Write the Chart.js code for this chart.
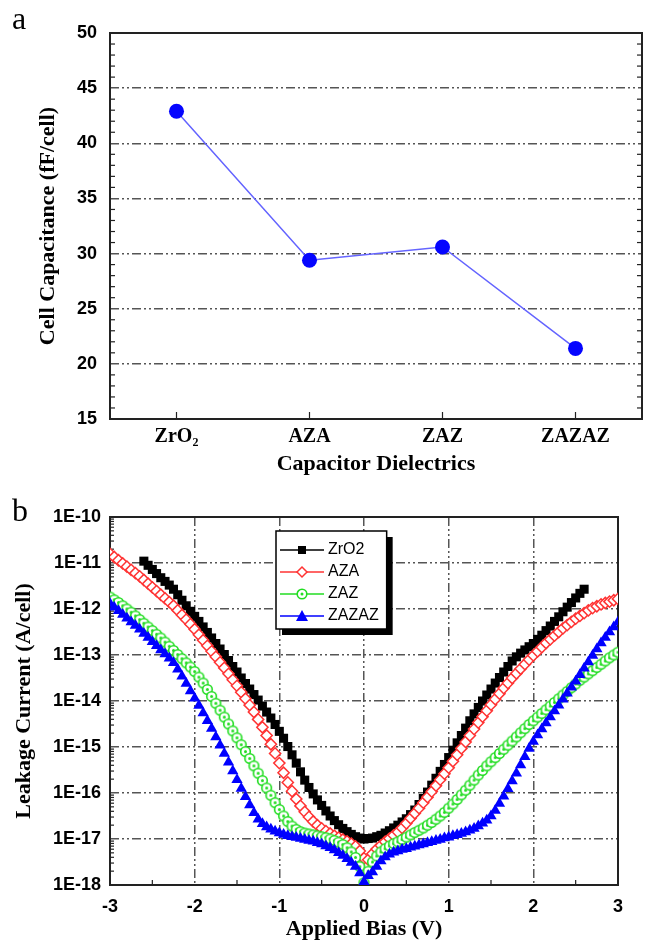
<!DOCTYPE html>
<html>
<head>
<meta charset="utf-8">
<script src="https://cdn.jsdelivr.net/npm/chart.js@4.4.1/dist/chart.umd.min.js"></script>
<style>
  body { margin: 0; background: #fff; }
  #page { position: relative; width: 650px; height: 946px; }
  .panel { position: absolute; left: 0; width: 650px; }
  .panel-label { position: absolute; font-family: 'Liberation Serif', 'Times New Roman', serif; font-size: 32px; line-height: 32px; color: #000; }
</style>
</head>
<body>
<div id="page">
  <div class="panel" style="top:0; height:480px;"><canvas id="capChart"></canvas></div>
  <div class="panel" style="top:480px; height:466px;"><canvas id="leakChart"></canvas></div>
  <div class="panel-label" style="left:12px; top:2px;">a</div>
  <div class="panel-label" style="left:12px; top:494px;">b</div>
</div>
<script>
// ---- panel (a): cell capacitance per dielectric stack ----
const DIELECTRICS = ['ZrO\u2082', 'AZA', 'ZAZ', 'ZAZAZ'];
const CELL_CAPACITANCE = [42.9, 29.4, 30.6, 21.4];   // fF/cell

// ---- panel (b): leakage current vs applied bias ----
const BIAS = [
  -3, -2.95, -2.9, -2.85, -2.8, -2.75, -2.7, -2.65, -2.6, -2.55,
  -2.5, -2.45, -2.4, -2.35, -2.3, -2.25, -2.2, -2.15, -2.1, -2.05,
  -2, -1.95, -1.9, -1.85, -1.8, -1.75, -1.7, -1.65, -1.6, -1.55,
  -1.5, -1.45, -1.4, -1.35, -1.3, -1.25, -1.2, -1.15, -1.1, -1.05,
  -1, -0.95, -0.9, -0.85, -0.8, -0.75, -0.7, -0.65, -0.6, -0.55,
  -0.5, -0.45, -0.4, -0.35, -0.3, -0.25, -0.2, -0.15, -0.1, -0.05,
  0,
  0.05, 0.1, 0.15, 0.2, 0.25, 0.3, 0.35, 0.4, 0.45, 0.5,
  0.55, 0.6, 0.65, 0.7, 0.75, 0.8, 0.85, 0.9, 0.95, 1,
  1.05, 1.1, 1.15, 1.2, 1.25, 1.3, 1.35, 1.4, 1.45, 1.5,
  1.55, 1.6, 1.65, 1.7, 1.75, 1.8, 1.85, 1.9, 1.95, 2,
  2.05, 2.1, 2.15, 2.2, 2.25, 2.3, 2.35, 2.4, 2.45, 2.5,
  2.55, 2.6, 2.65, 2.7, 2.75, 2.8, 2.85, 2.9, 2.95, 3
];
// ZrO2 was only swept from -2.6 V to 2.6 V
const ZRO2_BIAS = BIAS.slice(BIAS.indexOf(-2.6), BIAS.indexOf(2.6) + 1);

// log10 of leakage current (A/cell)
const ZRO2_LOG_I = [
  -10.96, -11.05, -11.14, -11.23, -11.32, -11.40, -11.48, -11.57, -11.69, -11.81,
  -11.93, -12.05, -12.16, -12.27, -12.39, -12.51, -12.63, -12.75, -12.87, -12.99,
  -13.12, -13.25, -13.37, -13.50, -13.62, -13.74, -13.86, -13.98, -14.11, -14.24,
  -14.37, -14.51, -14.66, -14.81, -14.99, -15.17, -15.35, -15.54, -15.72, -15.88,
  -16.02, -16.15, -16.27, -16.39, -16.50, -16.60, -16.69, -16.77, -16.84, -16.90,
  -16.95, -16.98,
  -17.00,
  -16.99, -16.98, -16.95, -16.92, -16.87, -16.82, -16.76, -16.70, -16.63, -16.56,
  -16.47, -16.37, -16.25, -16.12, -15.98, -15.83, -15.68, -15.53, -15.38, -15.23,
  -15.07, -14.91, -14.75, -14.59, -14.43, -14.28, -14.14, -14.00, -13.87, -13.74,
  -13.61, -13.49, -13.37, -13.25, -13.13, -13.04, -12.96, -12.89, -12.82, -12.75,
  -12.66, -12.57, -12.47, -12.37, -12.27, -12.17, -12.06, -11.96, -11.86, -11.76,
  -11.66, -11.57
];
const AZA_LOG_I = [
  -10.80, -10.87, -10.94, -11.01, -11.08, -11.15, -11.22, -11.29, -11.37, -11.45,
  -11.53, -11.61, -11.69, -11.77, -11.85, -11.93, -12.03, -12.13, -12.23, -12.33,
  -12.44, -12.56, -12.68, -12.80, -12.92, -13.04, -13.16, -13.28, -13.41, -13.54,
  -13.67, -13.81, -13.95, -14.09, -14.24, -14.40, -14.57, -14.75, -14.94, -15.14,
  -15.35, -15.56, -15.77, -15.96, -16.13, -16.28, -16.41, -16.52, -16.62, -16.70,
  -16.77, -16.83, -16.88, -16.93, -16.97, -17.01, -17.05, -17.10, -17.16, -17.26,
  -17.42,
  -17.45, -17.32, -17.22, -17.14, -17.06, -16.99, -16.92, -16.85, -16.76, -16.66,
  -16.55, -16.44, -16.33, -16.21, -16.09, -15.97, -15.84, -15.71, -15.58, -15.45,
  -15.31, -15.17, -15.03, -14.89, -14.75, -14.61, -14.47, -14.34, -14.21, -14.08,
  -13.96, -13.84, -13.72, -13.61, -13.50, -13.40, -13.30, -13.20, -13.10, -13.01,
  -12.92, -12.83, -12.74, -12.66, -12.58, -12.50, -12.42, -12.35, -12.28, -12.21,
  -12.15, -12.09, -12.03, -11.98, -11.94, -11.90, -11.87, -11.84, -11.81, -11.78
];
const ZAZ_LOG_I = [
  -11.74, -11.80, -11.86, -11.93, -12.00, -12.07, -12.15, -12.23, -12.31, -12.39,
  -12.47, -12.55, -12.63, -12.72, -12.81, -12.90, -12.99, -13.08, -13.17, -13.26,
  -13.36, -13.48, -13.61, -13.75, -13.90, -14.05, -14.20, -14.35, -14.50, -14.65,
  -14.80, -14.95, -15.10, -15.25, -15.41, -15.57, -15.73, -15.89, -16.05, -16.21,
  -16.36, -16.50, -16.62, -16.72, -16.79, -16.84, -16.87, -16.89, -16.91, -16.93,
  -16.95, -16.97, -17.00, -17.03, -17.07, -17.12, -17.19, -17.28, -17.40, -17.60,
  -17.95,
  -17.70, -17.50, -17.37, -17.28, -17.21, -17.15, -17.10, -17.06, -17.01, -16.96,
  -16.91, -16.86, -16.81, -16.76, -16.70, -16.64, -16.57, -16.50, -16.42, -16.33,
  -16.24, -16.14, -16.04, -15.94, -15.83, -15.72, -15.61, -15.51, -15.41, -15.32,
  -15.23, -15.14, -15.05, -14.96, -14.87, -14.78, -14.69, -14.60, -14.51, -14.43,
  -14.35, -14.27, -14.19, -14.11, -14.03, -13.95, -13.87, -13.79, -13.71, -13.63,
  -13.55, -13.48, -13.41, -13.34, -13.27, -13.20, -13.13, -13.06, -13.00, -12.94
];
const ZAZAZ_LOG_I = [
  -11.88, -11.96, -12.04, -12.12, -12.20, -12.28, -12.36, -12.44, -12.53, -12.62,
  -12.71, -12.80, -12.89, -12.98, -13.07, -13.17, -13.31, -13.46, -13.62, -13.78,
  -13.94, -14.10, -14.26, -14.43, -14.60, -14.78, -14.96, -15.14, -15.33, -15.52,
  -15.71, -15.90, -16.08, -16.26, -16.43, -16.57, -16.67, -16.74, -16.79, -16.83,
  -16.87, -16.90, -16.93, -16.95, -16.97, -16.99, -17.01, -17.03, -17.05, -17.08,
  -17.11, -17.15, -17.19, -17.24, -17.30, -17.36, -17.43, -17.51, -17.60, -17.74,
  -17.93,
  -17.80, -17.72, -17.60, -17.48, -17.39, -17.33, -17.29, -17.26, -17.23, -17.21,
  -17.18, -17.16, -17.13, -17.11, -17.08, -17.06, -17.03, -17.01, -16.98, -16.96,
  -16.93, -16.91, -16.88, -16.85, -16.81, -16.77, -16.72, -16.66, -16.59, -16.50,
  -16.38, -16.23, -16.07, -15.91, -15.74, -15.57, -15.39, -15.21, -15.03, -14.88,
  -14.74, -14.61, -14.48, -14.35, -14.22, -14.09, -13.96, -13.83, -13.70, -13.57,
  -13.43, -13.29, -13.15, -13.01, -12.87, -12.74, -12.62, -12.50, -12.39, -12.28
];

const CURRENT_TICKS = [1e-18, 1e-17, 1e-16, 1e-15, 1e-14, 1e-13, 1e-12, 1e-11, 1e-10];
const CURRENT_TICK_LABELS = ['1E-18', '1E-17', '1E-16', '1E-15', '1E-14', '1E-13', '1E-12', '1E-11', '1E-10'];

const SANS = "'Liberation Sans', Arial, sans-serif";
const SERIF = "'Liberation Serif', 'Times New Roman', serif";
const GRID_COLOR = '#555';
const GRID_DASH = [9, 3, 2, 3, 2, 3];
const NO_LINE = 'rgba(0,0,0,0)';

const BLACK = '#000000';
const RED = '#ff3333';
const GREEN = '#22dd22';
const BLUE = '#0000ff';

Chart.defaults.animation = false;
Chart.defaults.color = '#000';

// green open circle with a centre dot (drawn once, used as point style)
function ringDot(g, x, y) {
    g.fillStyle = '#fff';
    g.strokeStyle = GREEN;
    g.lineWidth = 1.6;
    g.beginPath(); g.arc(x, y, 4.8, 0, Math.PI * 2); g.fill(); g.stroke();
    g.fillStyle = GREEN;
    g.beginPath(); g.arc(x, y, 1.5, 0, Math.PI * 2); g.fill();
}
const ringDotImg = document.createElement('canvas');
ringDotImg.width = 13; ringDotImg.height = 13;
ringDot(ringDotImg.getContext('2d'), 6.5, 6.5);

// legend icons: line - marker - line
function legendIcon(color, marker) {
    const c = document.createElement('canvas');
    c.width = 44; c.height = 14;
    const g = c.getContext('2d');
    g.strokeStyle = color; g.lineWidth = 1.5;
    g.beginPath(); g.moveTo(0, 7); g.lineTo(44, 7); g.stroke();
    marker(g, 22, 7);
    return c;
}
const LEGEND_ICONS = [
    legendIcon(BLACK, (g, x, y) => { g.fillStyle = BLACK; g.fillRect(x - 4, y - 4, 8, 8); }),
    legendIcon(RED, (g, x, y) => {
        g.fillStyle = '#fff'; g.strokeStyle = RED; g.lineWidth = 1.5;
        g.beginPath(); g.moveTo(x - 5, y); g.lineTo(x, y - 5); g.lineTo(x + 5, y); g.lineTo(x, y + 5); g.closePath();
        g.fill(); g.stroke();
    }),
    legendIcon(GREEN, ringDot),
    legendIcon(BLUE, (g, x, y) => {
        g.fillStyle = BLUE;
        g.beginPath(); g.moveTo(x, y - 6); g.lineTo(x + 6, y + 5); g.lineTo(x - 6, y + 5); g.closePath(); g.fill();
    })
];

// frame around the plot plus short inward tick marks
const frameTicks = {
    id: 'frameTicks',
    beforeDatasetsDraw(chart, args, opts) {
        const {ctx, chartArea: a, scales} = chart;
        ctx.save();
        ctx.strokeStyle = '#222';
        ctx.lineWidth = 1.2;
        const seg = (x1, y1, x2, y2) => { ctx.beginPath(); ctx.moveTo(x1, y1); ctx.lineTo(x2, y2); ctx.stroke(); };
        (opts.yMinor || []).forEach(v => {
            const y = scales.y.getPixelForValue(v);
            seg(a.left, y, a.left + opts.yLen, y);
            if (opts.rightTicks) seg(a.right, y, a.right - opts.yLen, y);
        });
        (opts.xMinor || []).forEach(v => {
            const x = scales.x.getPixelForValue(v);
            seg(x, a.bottom, x, a.bottom - opts.xLen);
        });
        ctx.lineWidth = 2;
        ctx.strokeRect(a.left, a.top, a.right - a.left, a.bottom - a.top);
        ctx.restore();
    }
};

// ---------------- chart (a) ----------------
const capMinor = [];
for (let v = 16; v < 50; v++) if (v % 5 !== 0) capMinor.push(v);

new Chart(document.getElementById('capChart'), {
    type: 'line',
    data: {
        labels: DIELECTRICS,
        datasets: [{
            data: CELL_CAPACITANCE,
            borderColor: '#6464ff',
            borderWidth: 1.5,
            pointRadius: 7.5,
            pointBackgroundColor: '#0505ff',
            pointBorderWidth: 0,
            tension: 0
        }]
    },
    options: {
        responsive: true,
        maintainAspectRatio: false,
        layout: { padding: { top: 33, right: 8, left: 0, bottom: 0 } },
        plugins: {
            legend: { display: false },
            tooltip: { enabled: false },
            frameTicks: { yMinor: capMinor, yLen: 5, rightTicks: true, xMinor: [0, 1, 2, 3], xLen: 7 }
        },
        scales: {
            x: {
                offset: true,
                grid: { display: false, drawTicks: false },
                border: { display: false },
                ticks: { color: '#000', padding: 6, font: { family: SERIF, size: 20, weight: 'bold' } },
                title: {
                    display: true,
                    text: 'Capacitor Dielectrics',
                    color: '#000',
                    padding: { top: 0, bottom: 2 },
                    font: { family: SERIF, size: 22, weight: 'bold' }
                },
                afterFit: (scale) => { scale.height = 61; }
            },
            y: {
                min: 15,
                max: 50,
                ticks: { stepSize: 5, color: '#000', padding: 13, font: { family: SANS, size: 18, weight: 'bold' } },
                grid: {
                    drawTicks: false,
                    lineWidth: 1.5,
                    color: (c) => (c.tick && (c.tick.value === 15 || c.tick.value === 50)) ? NO_LINE : GRID_COLOR
                },
                border: { display: false, dash: GRID_DASH },
                title: {
                    display: true,
                    text: 'Cell Capacitance (fF/cell)',
                    color: '#000',
                    padding: { top: 35, bottom: 0 },
                    font: { family: SERIF, size: 22, weight: 'bold' }
                },
                afterFit: (scale) => { scale.width = 110; }
            }
        }
    },
    plugins: [frameTicks]
});

// ---------------- chart (b) ----------------
const leakMinor = [];
for (let d = -18; d < -10; d++) for (let k = 2; k <= 9; k++) leakMinor.push(k * Math.pow(10, d));

const toPoints = (bias, logI) => bias.map((v, i) => ({ x: v, y: Math.pow(10, logI[i]) }));

// box + shadow behind the legend, then the legend on top of the grid
const legendFrame = {
    id: 'legendFrame',
    afterLayout(chart) {
        const lg = chart.legend;
        lg.left = 278; lg.top = 56;
        lg.right = lg.left + lg.width; lg.bottom = lg.top + lg.height;
    },
    afterDatasetsDraw(chart) {
        const lg = chart.legend;
        const boxes = lg.legendHitBoxes;
        if (!boxes || !boxes.length) return;
        const left = Math.min(...boxes.map(b => b.left)) - 8;
        const top = Math.min(...boxes.map(b => b.top)) - 11;
        const right = Math.max(...boxes.map(b => b.left + b.width)) + 8;
        const bottom = Math.max(...boxes.map(b => b.top + b.height)) + 5;
        const ctx = chart.ctx;
        ctx.save();
        ctx.fillStyle = '#000';
        ctx.fillRect(left + 6, top + 6, right - left, bottom - top);
        ctx.fillStyle = '#fff';
        ctx.fillRect(left, top, right - left, bottom - top);
        ctx.strokeStyle = '#000';
        ctx.lineWidth = 1.5;
        ctx.strokeRect(left, top, right - left, bottom - top);
        ctx.restore();
        lg.draw();
    }
};

new Chart(document.getElementById('leakChart'), {
    type: 'scatter',
    data: {
        datasets: [
            { label: 'ZrO2', data: toPoints(ZRO2_BIAS, ZRO2_LOG_I), pointStyle: 'rect', pointRadius: 6.4,
              backgroundColor: BLACK, borderColor: BLACK, borderWidth: 0, order: 4 },
            { label: 'AZA', data: toPoints(BIAS, AZA_LOG_I), pointStyle: 'rectRot', pointRadius: 5.6,
              backgroundColor: '#fff', borderColor: RED, borderWidth: 1.5, order: 3 },
            { label: 'ZAZ', data: toPoints(BIAS, ZAZ_LOG_I), pointStyle: ringDotImg,
              backgroundColor: '#fff', borderColor: GREEN, order: 2 },
            { label: 'ZAZAZ', data: toPoints(BIAS, ZAZAZ_LOG_I), pointStyle: 'triangle', pointRadius: 6.5,
              backgroundColor: BLUE, borderColor: BLUE, borderWidth: 0, order: 1 }
        ]
    },
    options: {
        responsive: true,
        maintainAspectRatio: false,
        layout: { padding: { top: 37, right: 32, left: 0, bottom: 0 } },
        plugins: {
            tooltip: { enabled: false },
            legend: {
                position: 'chartArea',
                align: 'start',
                labels: {
                    usePointStyle: true,
                    pointStyleWidth: 36,
                    padding: 6,
                    color: '#000',
                    font: { family: SANS, size: 16 },
                    generateLabels: (chart) => chart.data.datasets.map((ds, i) => ({
                        text: ds.label,
                        pointStyle: LEGEND_ICONS[i],
                        fillStyle: ds.borderColor,
                        strokeStyle: ds.borderColor,
                        lineWidth: 0,
                        hidden: false,
                        datasetIndex: i,
                        fontColor: '#000'
                    }))
                }
            },
            frameTicks: { yMinor: leakMinor, yLen: 4, rightTicks: false, xMinor: [-2.5, -1.5, -0.5, 0.5, 1.5, 2.5], xLen: 5 }
        },
        scales: {
            x: {
                type: 'linear',
                min: -3,
                max: 3,
                ticks: { stepSize: 1, color: '#000', padding: 11, font: { family: SANS, size: 18, weight: 'bold' } },
                grid: {
                    drawTicks: false,
                    lineWidth: 1.5,
                    color: (c) => (c.tick && (c.tick.value === -3 || c.tick.value === 3)) ? NO_LINE : GRID_COLOR
                },
                border: { display: false, dash: GRID_DASH },
                title: {
                    display: true,
                    text: 'Applied Bias (V)',
                    color: '#000',
                    padding: { top: 0, bottom: 3 },
                    font: { family: SERIF, size: 22, weight: 'bold' }
                },
                afterFit: (scale) => { scale.height = 61; }
            },
            y: {
                type: 'logarithmic',
                min: 1e-18,
                max: 1e-10,
                afterBuildTicks: (scale) => { scale.ticks = CURRENT_TICKS.map(v => ({ value: v })); },
                ticks: {
                    color: '#000',
                    padding: 9,
                    autoSkip: false,
                    font: { family: SANS, size: 18, weight: 'bold' },
                    callback: (value, index) => CURRENT_TICK_LABELS[index]
                },
                grid: {
                    drawTicks: false,
                    lineWidth: 1.5,
                    color: (c) => (c.index === 0 || c.index === CURRENT_TICKS.length - 1) ? NO_LINE : GRID_COLOR
                },
                border: { display: false, dash: GRID_DASH },
                title: {
                    display: true,
                    text: 'Leakage Current (A/cell)',
                    color: '#000',
                    padding: { top: 11, bottom: 0 },
                    font: { family: SERIF, size: 22, weight: 'bold' }
                },
                afterFit: (scale) => { scale.width = 110; }
            }
        }
    },
    plugins: [frameTicks, legendFrame]
});
</script>
</body>
</html>
